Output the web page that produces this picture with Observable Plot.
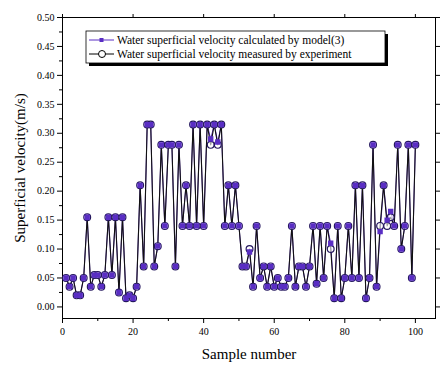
<!DOCTYPE html>
<html>
<head>
<meta charset="utf-8">
<script src="https://cdn.jsdelivr.net/npm/d3@7"></script>
<script src="https://cdn.jsdelivr.net/npm/@observablehq/plot@0.6"></script>
<style>
  html, body { margin: 0; padding: 0; background: #fff; }
  #chart { width: 441px; height: 367px; }
</style>
</head>
<body>
<div id="chart"></div>
<script>
// Sample numbers 1..100
const sampleNumbers = d3.range(1, 101);

// Measured superficial velocity (m/s)
const measuredValues = [
  0.05, 0.035, 0.05, 0.02, 0.02, 0.05, 0.155, 0.035, 0.055, 0.055,
  0.035, 0.055, 0.155, 0.055, 0.155, 0.025, 0.155, 0.015, 0.02, 0.015,
  0.035, 0.21, 0.07, 0.315, 0.315, 0.07, 0.105, 0.28, 0.14, 0.28,
  0.28, 0.07, 0.28, 0.14, 0.21, 0.14, 0.315, 0.14, 0.315, 0.14,
  0.315, 0.28, 0.315, 0.28, 0.315, 0.14, 0.21, 0.14, 0.21, 0.14,
  0.07, 0.07, 0.10, 0.035, 0.14, 0.05, 0.07, 0.035, 0.07, 0.035,
  0.05, 0.035, 0.035, 0.05, 0.14, 0.035, 0.07, 0.07, 0.035, 0.07,
  0.14, 0.04, 0.14, 0.05, 0.14, 0.10, 0.015, 0.14, 0.015, 0.05,
  0.14, 0.05, 0.21, 0.05, 0.21, 0.015, 0.05, 0.28, 0.035, 0.14,
  0.21, 0.14, 0.155, 0.14, 0.28, 0.10, 0.14, 0.28, 0.05, 0.28
];

// Calculated by model (nearly coincident with measurements)
const calculatedValues = [
  0.05, 0.035, 0.05, 0.02, 0.02, 0.05, 0.155, 0.035, 0.055, 0.055,
  0.035, 0.055, 0.155, 0.055, 0.155, 0.025, 0.155, 0.015, 0.02, 0.015,
  0.035, 0.21, 0.07, 0.315, 0.315, 0.07, 0.105, 0.28, 0.14, 0.28,
  0.28, 0.07, 0.28, 0.14, 0.21, 0.14, 0.315, 0.14, 0.315, 0.14,
  0.315, 0.29, 0.315, 0.285, 0.315, 0.14, 0.21, 0.14, 0.21, 0.14,
  0.07, 0.07, 0.095, 0.035, 0.14, 0.05, 0.07, 0.035, 0.07, 0.035,
  0.05, 0.035, 0.035, 0.05, 0.14, 0.035, 0.07, 0.07, 0.035, 0.07,
  0.14, 0.04, 0.14, 0.05, 0.14, 0.11, 0.015, 0.14, 0.015, 0.05,
  0.14, 0.05, 0.21, 0.05, 0.21, 0.015, 0.05, 0.28, 0.035, 0.13,
  0.21, 0.15, 0.165, 0.14, 0.28, 0.10, 0.14, 0.28, 0.05, 0.28
];

const yMajorTicks = [0.00, 0.05, 0.10, 0.15, 0.20, 0.25, 0.30, 0.35, 0.40, 0.45, 0.50];
const yMinorTicks = [0.025, 0.075, 0.125, 0.175, 0.225, 0.275, 0.325, 0.375, 0.425, 0.475];
const xMajorTicks = [0, 20, 40, 60, 80, 100];
const xMinorTicks = [10, 30, 50, 70, 90];

const seriesLabels = [
  "Water superficial velocity calculated by model(3)",
  "Water superficial velocity measured by experiment"
];

const measured = sampleNumbers.map((s, i) => ({sample: s, value: measuredValues[i]}));
const calculated = sampleNumbers.map((s, i) => ({sample: s, value: calculatedValues[i]}));

const purple = "#5a2ec4";
const darkPurple = "#24175e";

const chart = Plot.plot({
  width: 441,
  height: 367,
  marginLeft: 62,
  marginRight: 6,
  marginTop: 17,
  marginBottom: 49,
  style: {fontFamily: "Liberation Serif, serif", fontSize: "10px", background: "#fff", color: "#000"},
  x: {domain: [0, 105.7]},
  y: {domain: [-0.02, 0.5]},
  marks: [
    Plot.frame({stroke: "#000", strokeWidth: 1}),
    Plot.axisY(yMajorTicks, {tickSize: 5, tickFormat: d3.format(".2f"), tickPadding: 3,
      label: "Superficial velocity(m/s)", labelAnchor: "center", labelOffset: 48, labelArrow: "none", fontSize: 10}),
    Plot.axisY(yMinorTicks, {tickSize: 3, text: null, label: null}),
    Plot.axisY(yMajorTicks, {anchor: "right", tickSize: 4, text: null, label: null}),
    Plot.axisX(xMajorTicks, {tickSize: 5, tickPadding: 4, label: "Sample number", labelAnchor: "center",
      labelOffset: 40, labelArrow: "none", fontSize: 10}),
    Plot.axisX(xMinorTicks, {tickSize: 3, text: null, label: null}),
    Plot.axisX(xMajorTicks, {anchor: "top", tickSize: 4, text: null, label: null}),
    Plot.line(calculated, {x: "sample", y: "value", stroke: purple, strokeWidth: 1}),
    Plot.line(measured, {x: "sample", y: "value", stroke: "#111", strokeWidth: 1.1}),
    Plot.dot(measured, {x: "sample", y: "value", symbol: "circle", r: 3.4, stroke: darkPurple, strokeWidth: 1.2, fill: "#fff", fillOpacity: 0.6}),
    Plot.dot(calculated, {x: "sample", y: "value", symbol: "square", r: 2.2, fill: purple, stroke: purple})
  ]
});

document.getElementById("chart").appendChild(chart);

const svg = d3.select(chart);
// Larger axis titles
svg.selectAll("[aria-label='y-axis label'] text, [aria-label='x-axis label'] text")
  .attr("font-size", 15);

// Legend box inside the plot area
const g = svg.append("g")
  .attr("font-family", "Liberation Serif, serif")
  .attr("font-size", 11.5)
  .attr("text-anchor", "start");
g.append("rect").attr("x", 89).attr("y", 34).attr("width", 299).attr("height", 32).attr("fill", "#000");
g.append("rect").attr("x", 86).attr("y", 31).attr("width", 299).attr("height", 32)
  .attr("fill", "#fff").attr("stroke", "#000").attr("stroke-width", 0.8);
const rows = [
  {label: seriesLabels[0], color: purple, symbol: "square"},
  {label: seriesLabels[1], color: "#000", symbol: "circle"}
];
rows.forEach((r, i) => {
  const yy = 40 + i * 14;
  g.append("line").attr("x1", 89).attr("x2", 114).attr("y1", yy).attr("y2", yy)
    .attr("stroke", r.color).attr("stroke-width", 1);
  if (r.symbol === "square") {
    g.append("rect").attr("x", 99.5).attr("y", yy - 2).attr("width", 4).attr("height", 4).attr("fill", purple);
  } else {
    g.append("circle").attr("cx", 102).attr("cy", yy).attr("r", 3.5).attr("fill", "#fff")
      .attr("stroke", "#000").attr("stroke-width", 1);
  }
  g.append("text").attr("x", 117).attr("y", yy).attr("dy", "0.35em")
    .attr("text-anchor", "start").attr("fill", "#000").text(r.label);
});
</script>
</body>
</html>
